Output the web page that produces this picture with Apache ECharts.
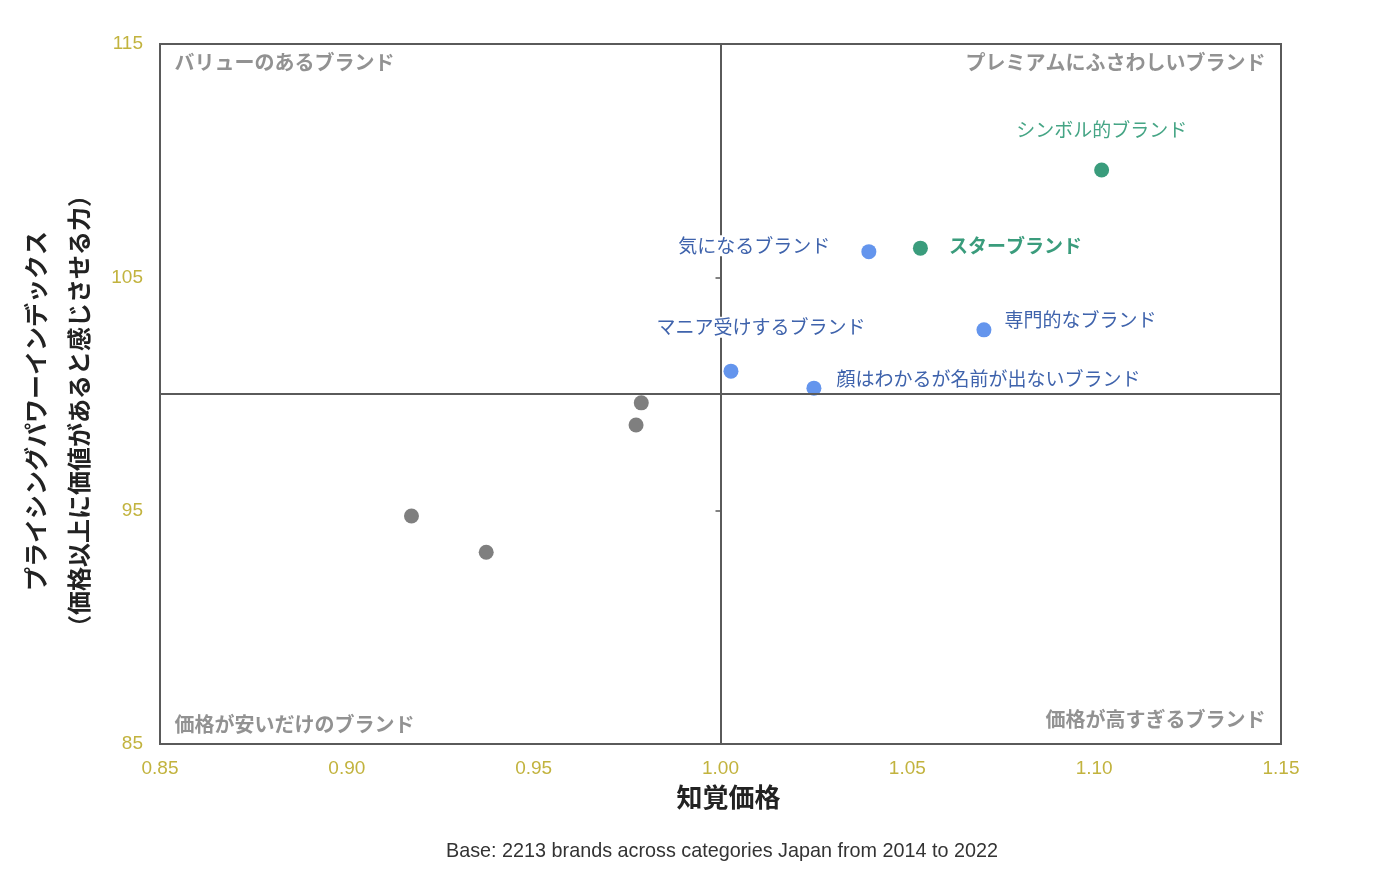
<!DOCTYPE html>
<html>
<head>
<meta charset="utf-8">
<script src="https://cdn.jsdelivr.net/npm/echarts@6/dist/echarts.min.js"></script>
<style>
html,body{margin:0;padding:0;background:#fff;}
#c{width:1384px;height:874px;}
</style>
</head>
<body>
<div id="c"></div>
<script>
// ---- data ----
const xTicks = [0.85, 0.90, 0.95, 1.00, 1.05, 1.10, 1.15];
const yTicks = [85, 95, 105, 115];
const greenNames = ['シンボル的ブランド', 'スターブランド'];
const greenValues = [[1.102, 109.6], [1.0535, 106.25]];
const blueNames = ['気になるブランド', '専門的なブランド', 'マニア受けするブランド', '顔はわかるが名前が出ないブランド'];
const blueValues = [[1.0397, 106.1], [1.0705, 102.75], [1.0028, 100.98], [1.025, 100.25]];
const grayValues = [[0.9788, 99.62], [0.9774, 98.67], [0.9173, 94.77], [0.9373, 93.22]];
const quadrantNames = ['バリューのあるブランド', 'プレミアムにふさわしいブランド', '価格が安いだけのブランド', '価格が高すぎるブランド'];
const quadrantCorners = [[0.85, 115], [1.15, 115], [0.85, 85], [1.15, 85]];
const centerX = 1.00;
const centerY = 100;
const xTitle = '知覚価格';
const yTitle = ['プライシングパワーインデックス', '（価格以上に価値があると感じさせる力）'];
const footnote = 'Base: 2213 brands across categories Japan from 2014 to 2022';

// ---- styles ----
const FONT = '"Noto Sans CJK JP", "Noto Sans", sans-serif';
const LATIN = '"Liberation Sans", Arial, sans-serif';
const TICK_COLOR = '#C2B33E';
const BLUE = '#6495ED';
const BLUE_TEXT = '#3F63AC';
const GREEN = '#3A9C7C';
const GREEN_TEXT = '#45A585';
const GRAY = '#7F7F7F';
const LINE = '#5A5A5A';

const greenLabelStyles = [
  {position: 'top', distance: 22, color: GREEN_TEXT, fontWeight: 'normal'},
  {position: 'right', distance: 20, color: GREEN, fontWeight: 'bold', offset: [0, -2]}
];
const blueLabelStyles = [
  {position: 'left', distance: 30, offset: [0, -6]},
  {position: 'right', distance: 12, offset: [0, -10]},
  {position: 'top', distance: 26, offset: [30, 0]},
  {position: 'right', distance: 14, offset: [0, -9]}
];
const quadrantLabelStyles = [
  {position: [15, 19], align: 'left'},
  {position: [-15, 19], align: 'right'},
  {position: [15, -19], align: 'left'},
  {position: [-15, -24], align: 'right'}
];

const chart = echarts.init(document.getElementById('c'), null, {renderer: 'canvas'});

const option = {
  animation: false,
  backgroundColor: '#fff',
  textStyle: {fontFamily: FONT},
  title: {
    text: footnote,
    left: 441,
    bottom: 7,
    textStyle: {fontFamily: LATIN, fontSize: 19.8, fontWeight: 'normal', color: '#333'}
  },
  grid: {
    left: 160, right: 103, top: 44, bottom: 130,
    show: true, borderColor: LINE, borderWidth: 2, backgroundColor: 'transparent'
  },
  xAxis: [{
    type: 'value', min: xTicks[0], max: xTicks[xTicks.length - 1], interval: 0.05,
    axisLine: {show: false}, axisTick: {show: false}, splitLine: {show: false},
    axisLabel: {color: TICK_COLOR, fontSize: 19, margin: 15, fontFamily: LATIN,
      formatter: v => v.toFixed(2)},
    name: xTitle, nameLocation: 'middle', nameGap: 40,
    nameTextStyle: {fontSize: 26, fontWeight: 'bold', color: '#222', fontFamily: FONT, padding: [0, 0, 0, 16]}
  }],
  yAxis: [{
    type: 'value', min: yTicks[0], max: yTicks[yTicks.length - 1], interval: 10,
    axisLine: {show: false}, axisTick: {show: false}, splitLine: {show: false},
    axisLabel: {color: TICK_COLOR, fontSize: 19, margin: 17, fontFamily: LATIN},
    name: yTitle.join('\n'), nameLocation: 'middle', nameGap: 52, nameRotate: 90,
    nameTextStyle: {fontSize: 24, fontWeight: 'bold', color: '#222', fontFamily: FONT,
      lineHeight: 43, padding: [0, 34, 0, 0]}
  }, {
    type: 'value', min: yTicks[0], max: yTicks[yTicks.length - 1], interval: 10,
    position: 'left', offset: -560.5,
    axisLine: {show: true, lineStyle: {color: LINE, width: 2}},
    axisTick: {show: true, length: 5, lineStyle: {color: LINE, width: 1.5}},
    axisLabel: {show: false}, splitLine: {show: false}
  }],
  series: [
    {
      type: 'scatter', name: 'center', data: [], silent: true,
      markLine: {
        silent: true, symbol: 'none', label: {show: false},
        lineStyle: {color: LINE, width: 2, type: 'solid'},
        data: [{yAxis: centerY}]
      }
    },
    {
      type: 'scatter', name: 'quadrants', symbolSize: 1, silent: true, z: 1,
      itemStyle: {color: 'rgba(0,0,0,0)'},
      data: quadrantNames.map((n, i) => ({
        name: n, value: quadrantCorners[i],
        label: {show: true, formatter: '{b}', position: quadrantLabelStyles[i].position,
          align: quadrantLabelStyles[i].align, verticalAlign: 'middle',
          color: '#777777', fontSize: 20, fontWeight: 'bold', fontFamily: FONT}
      }))
    },
    {
      type: 'scatter', name: 'gray', symbolSize: 15, z: 3,
      itemStyle: {color: GRAY, opacity: 1},
      data: grayValues
    },
    {
      type: 'scatter', name: 'blue', symbolSize: 15, z: 3,
      itemStyle: {color: BLUE, opacity: 1},
      data: blueNames.map((n, i) => ({
        name: n, value: blueValues[i],
        label: Object.assign({show: true, formatter: '{b}', color: BLUE_TEXT, fontSize: 19,
          fontFamily: FONT, backgroundColor: '#fff', padding: [1, 1]}, blueLabelStyles[i])
      }))
    },
    {
      type: 'scatter', name: 'green', symbolSize: 15, z: 3,
      itemStyle: {color: GREEN, opacity: 1},
      data: greenNames.map((n, i) => ({
        name: n, value: greenValues[i],
        label: Object.assign({show: true, formatter: '{b}', fontSize: 19,
          fontFamily: FONT, backgroundColor: '#fff', padding: [1, 1]}, greenLabelStyles[i])
      }))
    }
  ]
};
chart.setOption(option);
</script>
</body>
</html>
